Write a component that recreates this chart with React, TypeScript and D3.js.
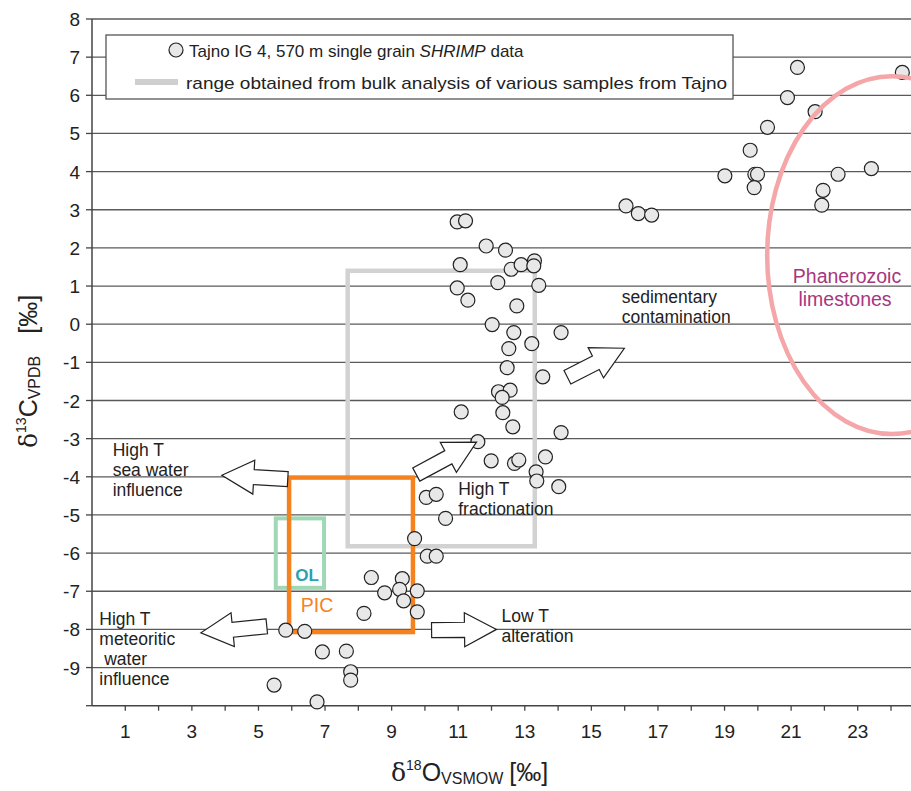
import React from 'react';
import * as d3 from 'd3';

// SHRIMP single grain data, Tajno IG 4, 570 m
const shrimpD18O = [
  21.19, 24.34, 20.89, 21.72, 20.29, 19.77, 19.01, 19.91, 19.99, 19.89, 22.41, 23.41, 21.96, 21.92,
  16.04, 16.41, 16.81,
  10.97, 11.22, 11.84, 12.42, 11.06, 12.59, 12.89, 13.29, 13.27, 12.19, 13.42, 10.97, 11.29, 12.76,
  12.02, 12.67, 14.09, 13.21, 12.52, 12.47, 13.54, 12.21, 12.56, 12.32, 11.09, 12.34, 12.64, 14.09,
  11.59, 11.99, 12.69, 12.82, 13.62, 13.34, 13.36, 14.02, 10.04, 10.34, 10.62, 9.69, 10.07, 10.34,
  9.32, 8.79, 9.24, 9.77, 9.36, 9.77, 8.39, 8.17, 5.82, 6.39, 6.92, 7.64, 7.77, 7.77, 5.47, 6.76,
];
const shrimpD13C = [
  6.73, 6.6, 5.94, 5.57, 5.16, 4.56, 3.89, 3.93, 3.93, 3.58, 3.93, 4.08, 3.51, 3.12,
  3.1, 2.9, 2.86,
  2.68, 2.71, 2.05, 1.94, 1.56, 1.44, 1.56, 1.66, 1.53, 1.09, 1.02, 0.95, 0.63, 0.48,
  -0.01, -0.22, -0.22, -0.51, -0.64, -1.14, -1.38, -1.77, -1.73, -1.92, -2.3, -2.32, -2.69, -2.84,
  -3.08, -3.58, -3.65, -3.56, -3.48, -3.87, -4.11, -4.26, -4.54, -4.46, -5.09, -5.62, -6.08, -6.08,
  -6.67, -7.04, -6.95, -6.99, -7.25, -7.54, -6.64, -7.58, -8.02, -8.05, -8.59, -8.57, -9.11, -9.33, -9.46, -9.9,
];

const xTicks = d3.range(1, 25);
const xTickLabels = [1, 3, 5, 7, 9, 11, 13, 15, 17, 19, 21, 23];
const yTicks = d3.range(-10, 9);
const yTickLabels = d3.range(-9, 9);

// fields: [x0, y0, x1, y1] in data units
const bulkRange = [7.68, 1.4, 13.3, -5.82];
const picField = [5.92, -4.02, 9.64, -8.07];
const olField = [5.52, -5.09, 6.97, -6.91];
// ellipse: cx, cy, rx, ry
const phanerozoic = [24.03, 1.81, 3.75, 4.69];

// arrows: tail -> tip
const arrows = [
  { from: [5.88, -4.06], to: [3.9, -3.96] },
  { from: [5.25, -7.92], to: [3.27, -8.09] },
  { from: [10.2, -8.02], to: [12.15, -8.0] },
  { from: [9.74, -3.94], to: [11.55, -3.09] },
  { from: [14.28, -1.39], to: [15.99, -0.63] },
];

const notes = [
  { x: 0.62, y: -3.46, lines: ['High T', 'sea water', 'influence'] },
  { x: 0.22, y: -7.88, lines: ['High T', 'meteoritic', ' water', 'influence'] },
  { x: 12.3, y: -7.81, lines: ['Low T', 'alteration'] },
  { x: 11.0, y: -4.48, lines: ['High T', 'fractionation'] },
  { x: 15.91, y: 0.56, lines: ['sedimentary', 'contamination'] },
];

const W = 911;
const H = 791;
const font = 'Liberation Sans, Arial, sans-serif';

function blockArrow(x0: number, y0: number, x1: number, y1: number) {
  const dx = x1 - x0;
  const dy = y1 - y0;
  const len = Math.hypot(dx, dy);
  const ux = dx / len, uy = dy / len;
  const nx = -uy, ny = ux;
  const sw = 7.5, hw = 17, hl = 32;
  const bx = x1 - ux * hl, by = y1 - uy * hl;
  const p = d3.path();
  p.moveTo(x0 + nx * sw, y0 + ny * sw);
  p.lineTo(bx + nx * sw, by + ny * sw);
  p.lineTo(bx + nx * hw, by + ny * hw);
  p.lineTo(x1, y1);
  p.lineTo(bx - nx * hw, by - ny * hw);
  p.lineTo(bx - nx * sw, by - ny * sw);
  p.lineTo(x0 - nx * sw, y0 - ny * sw);
  p.closePath();
  return p.toString();
}

export default function App() {
  const x = d3.scaleLinear().domain([0, 25]).range([92, 924.3]);
  const y = d3.scaleLinear().domain([-10, 8]).range([705.7, 19]);
  const points = shrimpD18O.map((v, i) => [v, shrimpD13C[i]]);

  const rect = (f: number[], color: string, w: number) => (
    <rect
      x={x(f[0])}
      y={y(f[1])}
      width={x(f[2]) - x(f[0])}
      height={y(f[3]) - y(f[1])}
      fill="none"
      stroke={color}
      strokeWidth={w}
    />
  );

  return (
    <svg width={W} height={H} style={{ position: 'absolute', left: 0, top: 0, background: '#fff' }} fontFamily={font}>
      {/* grid */}
      {yTicks.filter(t => t > -10).map(t => (
        <line key={'g' + t} x1={x(0)} x2={W} y1={y(t)} y2={y(t)} stroke="#5a5a5a" strokeWidth={1.3} />
      ))}
      {/* axes */}
      <line x1={x(0)} x2={x(0)} y1={y(8)} y2={y(-10)} stroke="#444" strokeWidth={1.5} />
      <line x1={x(0)} x2={W} y1={y(-10)} y2={y(-10)} stroke="#444" strokeWidth={1.5} />
      {yTicks.map(t => (
        <line key={'yt' + t} x1={x(0) - 6} x2={x(0)} y1={y(t)} y2={y(t)} stroke="#444" strokeWidth={1.3} />
      ))}
      {xTicks.map(t => (
        <line key={'xt' + t} x1={x(t)} x2={x(t)} y1={y(-10)} y2={y(-10) + 5} stroke="#444" strokeWidth={1.3} />
      ))}
      {yTickLabels.map(t => (
        <text key={'yl' + t} x={80} y={y(t) + 7} textAnchor="end" fontSize={19} fill="#222">{t}</text>
      ))}
      {xTickLabels.map(t => (
        <text key={'xl' + t} x={x(t)} y={738} textAnchor="middle" fontSize={19} fill="#222">{t}</text>
      ))}

      {/* axis titles */}
      <text x={391} y={781} fontSize={25} fill="#222">
        <tspan fontFamily="DejaVu Serif, serif">δ</tspan>
        <tspan fontSize={14} dy={-11}>18</tspan>
        <tspan dy={11}>O</tspan>
        <tspan fontSize={16} dy={3}>VSMOW</tspan>
        <tspan dy={-3} dx={6}>[‰]</tspan>
      </text>
      <text transform="translate(37,448) rotate(-90)" fontSize={25} fill="#222">
        <tspan fontFamily="DejaVu Serif, serif">δ</tspan>
        <tspan fontSize={14} dy={-11}>13</tspan>
        <tspan dy={11}>C</tspan>
        <tspan fontSize={16} dy={3}>VPDB</tspan>
        <tspan dy={-3} dx={22}>[‰]</tspan>
      </text>

      {/* legend */}
      <rect x={106} y={35} width={627} height={64} fill="#fff" stroke="#555" strokeWidth={1.3} />
      <circle cx={176} cy={50} r={7} fill="#e8e8e8" stroke="#222" strokeWidth={1.2} />
      <text x={189} y={56.5} fontSize={17} fill="#222">
        Tajno IG 4, 570 m single grain <tspan fontStyle="italic">SHRIMP</tspan> data
      </text>
      <line x1={135} x2={178} y1={82} y2={82} stroke="#cfcfcf" strokeWidth={6} />
      <text x={186} y={88.5} fontSize={17} fill="#222" textLength={541} lengthAdjust="spacingAndGlyphs">
        range obtained from bulk analysis of various samples from Tajno
      </text>

      {/* fields */}
      {rect(bulkRange, '#d2d2d2', 4.5)}
      {rect(olField, '#9fd8b5', 4)}
      {rect(picField, '#f5821f', 4.5)}

      {/* points */}
      {points.map((d, i) => (
        <circle key={'p' + i} cx={x(d[0])} cy={y(d[1])} r={7} fill="#e8e8e8" stroke="#222" strokeWidth={1.2} />
      ))}

      <ellipse
        cx={x(phanerozoic[0])}
        cy={y(phanerozoic[1])}
        rx={x(phanerozoic[2]) - x(0)}
        ry={y(0) - y(phanerozoic[3])}
        fill="none"
        stroke="#f5a6a9"
        strokeWidth={4.5}
      />

      {/* arrows */}
      {arrows.map((a, i) => (
        <path
          key={'a' + i}
          d={blockArrow(x(a.from[0]), y(a.from[1]), x(a.to[0]), y(a.to[1]))}
          fill="#fff"
          stroke="#222"
          strokeWidth={1.2}
        />
      ))}

      {/* annotations */}
      {notes.map((n, i) => (
        <text key={'n' + i} x={x(n.x)} y={y(n.y)} fontSize={17.5} fill="#222">
          {n.lines.map((l, j) => (
            <tspan key={j} x={x(n.x)} dy={j === 0 ? 0 : 20} style={{ whiteSpace: 'pre' }}>{l}</tspan>
          ))}
        </text>
      ))}

      <text x={307} y={581} textAnchor="middle" fontSize={17} fontWeight="bold" fill="#2e9fae">OL</text>
      <text x={317} y={611.5} textAnchor="middle" fontSize={19.5} fill="#f5821f">PIC</text>
      <text x={847} y={283} textAnchor="middle" fontSize={19.5} fill="#a8367e">Phanerozoic</text>
      <text x={845} y={306} textAnchor="middle" fontSize={19.5} fill="#a8367e">limestones</text>
    </svg>
  );
}
